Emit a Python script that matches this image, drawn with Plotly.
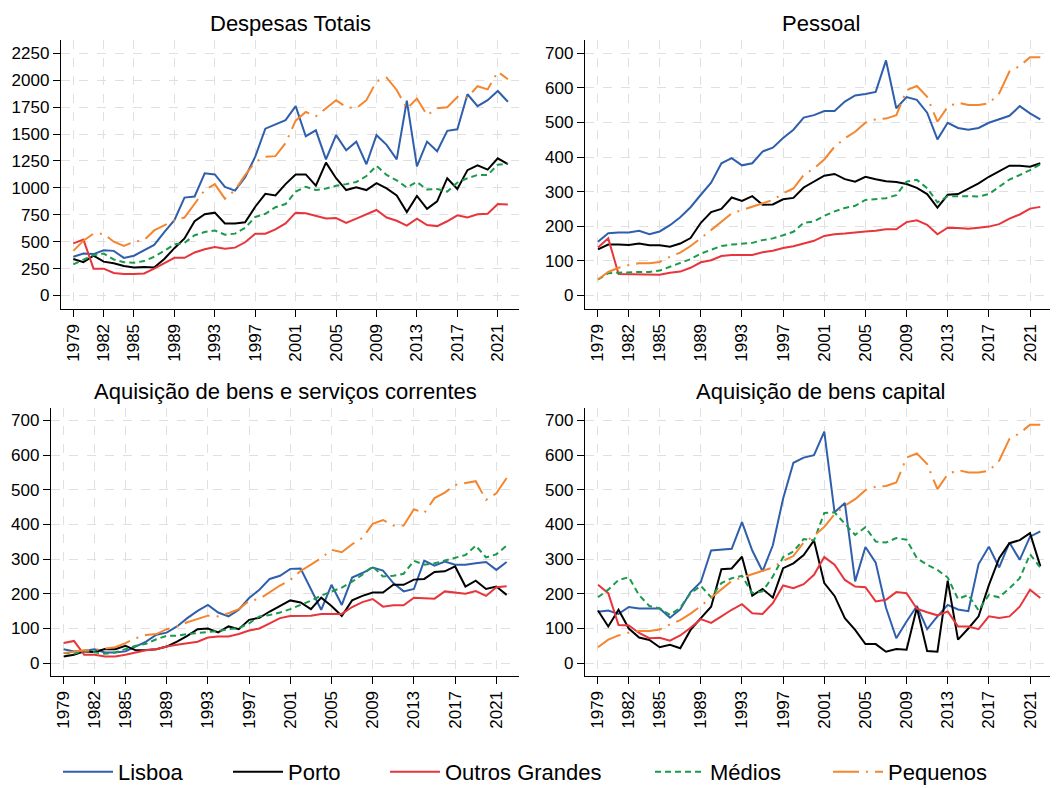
import plotly.graph_objects as go

ANOS = list(range(1979, 2023))
TICKS_X = [1979, 1982, 1985, 1989, 1993, 1997, 2001, 2005, 2009, 2013, 2017, 2021]

# Despesas Totais
lisboa_tot = [360, 390, 385, 420, 415, 350, 370, 420, 470, 590,
              700, 910, 920, 1135, 1125, 1010, 975, 1100, 1290, 1550,
              1590, 1630, 1760, 1480, 1535, 1265, 1490, 1350, 1430, 1220,
              1490, 1400, 1265, 1810, 1200, 1430, 1340, 1530, 1545, 1870,
              1760, 1815, 1900, 1800]
porto_tot = [340, 310, 370, 315, 300, 275, 260, 265, 260, 340,
             440, 530, 690, 755, 770, 670, 670, 680, 825, 945,
             930, 1035, 1125, 1125, 1020, 1235, 1090, 980, 1005, 980,
             1045, 995, 930, 775, 925, 805, 875, 1090, 990, 1165,
             1210, 1170, 1275, 1220]
outros_tot = [485, 520, 250, 250, 210, 200, 200, 205, 250, 300,
              350, 350, 400, 430, 450, 435, 445, 495, 575, 575,
              615, 670, 770, 765, 740, 715, 720, 675, 715, 755,
              795, 725, 695, 650, 715, 655, 645, 690, 745, 725,
              755, 760, 850, 845]
medios_tot = [290, 335, 375, 390, 335, 310, 305, 320, 360, 415,
              475, 490, 560, 590, 605, 565, 575, 630, 730, 760,
              820, 850, 965, 1010, 980, 995, 1020, 1035, 1055, 1110,
              1205, 1120, 1070, 1005, 1055, 985, 990, 965, 1050, 1090,
              1120, 1120, 1215, 1225]
pequenos_tot = [415, 510, 575, 575, 500, 460, 500, 515, 605, 655,
                700, 725, 855, 980, 1035, 900, 980, 1120, 1240, 1290,
                1295, 1415, 1625, 1705, 1665, 1740, 1815, 1750, 1740, 1815,
                1990, 2025, 1910, 1735, 1830, 1675, 1740, 1750, 1845, 1840,
                1945, 1915, 2080, 2010]

# Pessoal
lisboa_pes = [155, 180, 182, 182, 187, 177, 185, 203, 226, 255,
              291, 326, 382, 397, 376, 382, 416, 427, 455, 479,
              514, 521, 533, 533, 560, 578, 582, 588, 679, 541,
              573, 565, 528, 451, 499, 484, 479, 484, 499, 509,
              519, 547, 526, 509]
porto_pes = [133, 147, 147, 146, 150, 145, 145, 141, 150, 166,
             210, 241, 250, 283, 273, 287, 262, 263, 278, 282,
             312, 329, 346, 351, 336, 329, 343, 336, 330, 328,
             322, 311, 293, 254, 291, 293, 309, 324, 343, 358,
             375, 375, 372, 382]
outros_pes = [139, 165, 62, 61, 61, 59, 60, 66, 69, 80,
              96, 102, 114, 117, 117, 117, 125, 129, 137, 142,
              150, 158, 172, 177, 179, 183, 185, 187, 191, 191,
              212, 217, 204, 177, 196, 195, 193, 196, 199, 206,
              222, 234, 251, 256]
medios_pes = [46, 64, 66, 68, 68, 68, 72, 83, 93, 105,
              121, 133, 143, 147, 149, 152, 160, 165, 174, 184,
              210, 214, 230, 243, 253, 259, 276, 279, 281, 290,
              329, 334, 310, 269, 287, 287, 286, 286, 293, 314,
              335, 348, 362, 379]
pequenos_pes = [46, 68, 80, 88, 93, 93, 97, 112, 124, 143,
                165, 189, 213, 237, 247, 256, 266, 276, 295, 309,
                348, 367, 393, 430, 454, 473, 499, 509, 511, 521,
                593, 605, 574, 502, 545, 557, 550, 550, 555, 584,
                647, 663, 688, 688]

# Aquisição de bens e serviços correntes
lisboa_bsc = [40, 34, 36, 40, 31, 31, 34, 48, 62, 82,
              88, 106, 130, 151, 168, 146, 135, 154, 188, 212,
              243, 252, 272, 273, 212, 154, 226, 168, 247, 260,
              276, 267, 231, 207, 214, 296, 281, 293, 284, 284,
              288, 292, 269, 292]
porto_bsc = [19, 24, 34, 32, 41, 40, 50, 37, 38, 40,
             48, 62, 79, 98, 100, 89, 106, 98, 125, 131,
             149, 166, 181, 175, 156, 189, 165, 136, 181, 194,
             204, 204, 226, 226, 241, 243, 263, 265, 279, 221,
             238, 214, 221, 197]
outros_bsc = [58, 64, 24, 24, 19, 19, 24, 31, 37, 40,
              48, 53, 58, 62, 74, 77, 77, 84, 94, 100,
              115, 130, 136, 137, 137, 142, 142, 142, 162, 176,
              185, 163, 167, 167, 189, 188, 186, 207, 204, 200,
              208, 194, 219, 222]
medios_bsc = [29, 27, 36, 32, 27, 31, 40, 50, 56, 69,
              79, 79, 84, 87, 89, 93, 98, 101, 115, 135,
              139, 146, 156, 168, 180, 195, 207, 218, 235, 255,
              279, 250, 252, 258, 295, 284, 288, 296, 303, 312,
              339, 305, 314, 339]
pequenos_bsc = [29, 34, 37, 38, 43, 46, 58, 72, 81, 84,
                98, 106, 118, 127, 137, 135, 144, 156, 180, 185,
                205, 224, 240, 266, 284, 303, 327, 320, 343, 361,
                402, 413, 397, 397, 444, 433, 476, 492, 514, 520,
                525, 471, 490, 534]

# Aquisição de bens capital
lisboa_cap = [148, 152, 142, 162, 158, 158, 158, 131, 155, 205,
              234, 325, 328, 330, 407, 325, 265, 340, 475, 578,
              593, 600, 668, 435, 462, 236, 335, 290, 160, 72,
              120, 165, 98, 135, 168, 155, 150, 286, 336, 276,
              348, 298, 365, 380]
porto_cap = [152, 106, 154, 100, 74, 67, 46, 53, 43, 96,
             130, 163, 271, 273, 307, 195, 214, 189, 274, 288,
             312, 354, 231, 194, 130, 96, 55, 55, 33, 41,
             39, 160, 35, 33, 238, 68, 100, 135, 225, 303,
             346, 355, 375, 280]
outros_cap = [226, 202, 110, 109, 87, 72, 73, 65, 80, 102,
              127, 116, 135, 154, 170, 144, 142, 173, 224, 216,
              228, 255, 306, 284, 240, 221, 219, 178, 183, 205,
              202, 157, 147, 138, 149, 106, 106, 98, 135, 130,
              135, 163, 212, 188]
medios_cap = [190, 212, 240, 248, 196, 165, 158, 139, 160, 202,
              223, 190, 231, 245, 252, 202, 207, 250, 306, 322,
              358, 354, 433, 435, 402, 370, 392, 351, 348, 361,
              356, 303, 284, 269, 247, 185, 197, 152, 197, 190,
              216, 245, 314, 276]
# no original a série dos Pequenos repete a do Pessoal
pequenos_cap = [46, 68, 80, 88, 93, 93, 97, 112, 124, 143,
                165, 189, 213, 237, 247, 256, 266, 276, 295, 309,
                348, 367, 393, 430, 454, 473, 499, 509, 511, 521,
                593, 605, 574, 502, 545, 557, 550, 550, 555, 584,
                647, 663, 688, 688]

BLUE = "#2F5FAC"
BLACK = "#000000"
RED = "#E8353B"
GREEN = "#1B9A4B"
ORANGE = "#F3862F"

SERIES = [
    ("Lisboa", BLUE, "solid"),
    ("Porto", BLACK, "solid"),
    ("Outros Grandes", RED, "solid"),
    ("Médios", GREEN, "6px,4px"),
    ("Pequenos", ORANGE, "26px,7px,2px,7px"),
]

# a página tem 8px de margem no body: figura deslocada; a altura passa um
# pouco do fundo da janela para a caixa da legenda não ser cortada
OFF = 8
W, H = 1058 - OFF, 800
FONT = "Liberation Sans, Arial, sans-serif"


def fx(p):
    return (p - OFF) / W


def fy(p):
    return 1 - (p - OFF) / H


PANELS = [
    dict(title="Despesas Totais",
         data=[lisboa_tot, porto_tot, outros_tot, medios_tot, pequenos_tot],
         px=(61, 519), py=(40, 309), xr=[1977.78, 2023.1], yr=[-125, 2374],
         yticks=list(range(0, 2251, 250))),
    dict(title="Pessoal",
         data=[lisboa_pes, porto_pes, outros_pes, medios_pes, pequenos_pes],
         px=(585, 1058), py=(40, 309), xr=[1977.74, 2023.72], yr=[-39, 738],
         yticks=list(range(0, 701, 100))),
    dict(title="Aquisição de bens e serviços correntes",
         data=[lisboa_bsc, porto_bsc, outros_bsc, medios_bsc, pequenos_bsc],
         px=(51, 519), py=(408, 676), xr=[1977.77, 2023.2], yr=[-37, 736],
         yticks=list(range(0, 701, 100))),
    dict(title="Aquisição de bens capital",
         data=[lisboa_cap, porto_cap, outros_cap, medios_cap, pequenos_cap],
         px=(585, 1058), py=(408, 676), xr=[1977.74, 2023.72], yr=[-37, 736],
         yticks=list(range(0, 701, 100))),
]

# início da linha de cada item da legenda (px na página)
LEGEND_X = [63, 233, 390, 655, 833]

fig = go.Figure()
layout = dict(
    width=W, height=H,
    margin=dict(l=0, r=0, t=0, b=0, autoexpand=False),
    paper_bgcolor="white", plot_bgcolor="white",
    font=dict(family=FONT, color="black"),
    annotations=[],
)

for i, p in enumerate(PANELS):
    n = "" if i == 0 else str(i + 1)
    for j, (name, color, dash) in enumerate(SERIES):
        leg = "legend" if j == 0 else "legend%d" % (j + 1)
        fig.add_trace(go.Scatter(
            x=ANOS, y=p["data"][j], name=name, mode="lines",
            line=dict(color=color, width=2, dash=dash),
            xaxis="x" + n, yaxis="y" + n,
            showlegend=(i == 0), legend=leg, hoverinfo="skip",
        ))
    common = dict(
        showline=True, linecolor="black", linewidth=1.3,
        ticks="outside", ticklen=7, tickwidth=1.3, tickcolor="black",
        showgrid=True, gridcolor="#e0e0e0", gridwidth=1, griddash="dash",
        zeroline=False, automargin=False,
        tickfont=dict(size=17, color="black", family=FONT),
    )
    layout["xaxis" + n] = dict(
        common, domain=[fx(p["px"][0]), min(fx(p["px"][1]), 1)], range=p["xr"],
        anchor="y" + n, tickvals=TICKS_X, tickangle=-90,
    )
    layout["yaxis" + n] = dict(
        common, domain=[fy(p["py"][1]), fy(p["py"][0])], range=p["yr"],
        anchor="x" + n, tickvals=p["yticks"],
    )
    layout["annotations"].append(dict(
        text=p["title"], showarrow=False, xref="paper", yref="paper",
        x=fx((p["px"][0] + min(p["px"][1], 1056)) / 2), y=fy(p["py"][0] - 17),
        xanchor="center", yanchor="middle",
        font=dict(size=22, color="black", family=FONT),
    ))

for j, xl in enumerate(LEGEND_X):
    leg = "legend" if j == 0 else "legend%d" % (j + 1)
    layout[leg] = dict(
        x=fx(xl - 5), y=fy(772), xanchor="left", yanchor="middle",
        orientation="h", bgcolor="rgba(0,0,0,0)", itemwidth=50,
        font=dict(size=22, color="black", family=FONT),
    )

fig.update_layout(**layout)
fig.write_html("out.html")
